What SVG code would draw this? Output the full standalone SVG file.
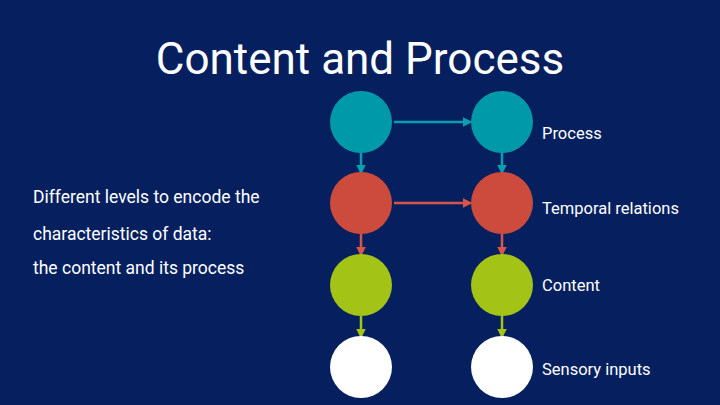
<svg xmlns="http://www.w3.org/2000/svg" width="720" height="405" viewBox="0 0 720 405">
<style>
text{font-family:Roboto,"Liberation Sans",sans-serif;fill:#fff}
.t{fill:#0099a9}.r{fill:#cc4b3c}.g{fill:#a4c317}.w{fill:#fff}
.lt{stroke:#0a9fb0;stroke-width:2.5}.lr{stroke:#d8554a;stroke-width:2.5}.lg{stroke:#a4c317;stroke-width:2.5}
</style>
<defs>
<marker id="at" markerWidth="4" markerHeight="4" refX="3" refY="2" orient="auto"><path d="M0,0L4,2L0,4z" fill="#0a9fb0"/></marker>
<marker id="ar" markerWidth="4" markerHeight="4" refX="3" refY="2" orient="auto"><path d="M0,0L4,2L0,4z" fill="#d8554a"/></marker>
<marker id="ag" markerWidth="4" markerHeight="4" refX="3" refY="2" orient="auto"><path d="M0,0L4,2L0,4z" fill="#a4c317"/></marker>
</defs>
<rect width="720" height="405" fill="#06205f"/>
<text x="360" y="74" font-size="44" text-anchor="middle">Content and Process</text>
<g id="desc" font-size="17.5">
<text x="33" y="203">Different levels to encode the</text>
<text x="33" y="240">characteristics of data:</text>
<text x="33" y="274">the content and its process</text>
</g>
<g id="connectors" fill="none">
<line x1="394" y1="122" x2="470" y2="122" class="lt" marker-end="url(#at)"/>
<line x1="394" y1="203" x2="470" y2="203" class="lr" marker-end="url(#ar)"/>
<line x1="361" y1="153" x2="361" y2="172" class="lt" marker-end="url(#at)"/>
<line x1="502" y1="153" x2="502" y2="172" class="lt" marker-end="url(#at)"/>
<line x1="361" y1="234" x2="361" y2="254" class="lr" marker-end="url(#ar)"/>
<line x1="502" y1="234" x2="502" y2="254" class="lr" marker-end="url(#ar)"/>
<line x1="361" y1="316" x2="361" y2="336" class="lg" marker-end="url(#ag)"/>
<line x1="502" y1="316" x2="502" y2="336" class="lg" marker-end="url(#ag)"/>
</g>
<g id="p1"><circle cx="361" cy="122" r="31" class="t"/></g>
<g id="p2"><circle cx="502" cy="122" r="31" class="t"/></g>
<g id="t1"><circle cx="361" cy="203" r="31" class="r"/></g>
<g id="t2"><circle cx="502" cy="203" r="31" class="r"/></g>
<g id="c1"><circle cx="361" cy="285" r="31" class="g"/></g>
<g id="c2"><circle cx="502" cy="285" r="31" class="g"/></g>
<g id="s1"><circle cx="361" cy="367" r="31" class="w"/></g>
<g id="s2"><circle cx="502" cy="367" r="31" class="w"/></g>
<g id="labels" font-size="16.5">
<text x="542" y="139">Process</text>
<text x="542" y="214">Temporal relations</text>
<text x="542" y="291">Content</text>
<text x="542" y="375">Sensory inputs</text>
</g>
</svg>
